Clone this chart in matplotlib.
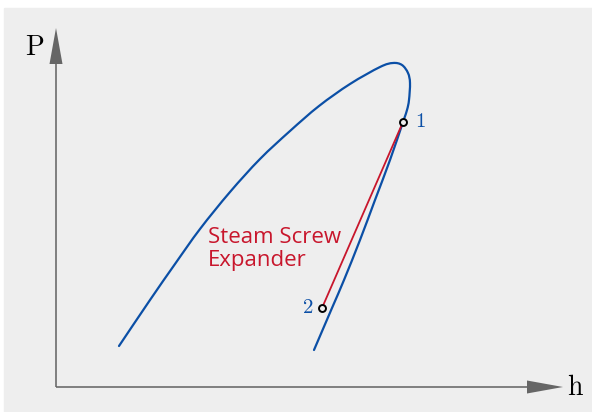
import numpy as np
import matplotlib

matplotlib.use("Agg")
import matplotlib.pyplot as plt
from matplotlib.patches import Rectangle, PathPatch
from matplotlib.path import Path

# ── Data (h, P in arbitrary units, origin at the axes corner) ────────────────

dome_h = [63, 94, 119, 144, 174, 204, 234, 263, 294, 324, 337, 346, 352,
          354, 353, 351, 347, 334, 319, 304, 288, 276, 258]
dome_P = [41, 87, 123, 158, 195, 228, 256, 281, 303, 320, 324, 322, 314,
          304, 287, 277, 265, 227, 187, 147, 107, 79, 37]

state_h = [347, 266]
state_P = [265, 79]
state_labels = ["1", "2"]

BG = "#eeeeee"
BLUE = "#0b4fa6"
RED = "#c8162c"
AXIS = "#666666"


def smooth_path(xs, ys):
    """Catmull-Rom through the points, handed to matplotlib as cubic Beziers."""
    pts = np.column_stack([xs, ys]).astype(float)
    ext = np.vstack([pts[0], pts, pts[-1]])
    verts = [pts[0]]
    codes = [Path.MOVETO]
    for i in range(1, len(ext) - 2):
        p0, p1, p2, p3 = ext[i - 1], ext[i], ext[i + 1], ext[i + 2]
        verts += [p1 + (p2 - p0) / 6, p2 - (p3 - p1) / 6, p2]
        codes += [Path.CURVE4] * 3
    return Path(verts, codes)


fig = plt.figure(figsize=(5.92, 4.12), dpi=100)
ax = fig.add_axes([0, 0, 1, 1])
ax.set_xlim(-56, 536)
ax.set_ylim(-25, 387)
ax.axis("off")

ax.add_patch(Rectangle((-52, -25), 588, 404, color=BG, zorder=0))

# axes arrows
ax.arrow(0, 0, 0, 359, width=1.6, head_width=13, head_length=36,
         length_includes_head=True, fc=AXIS, ec=AXIS, lw=0, zorder=1)
ax.arrow(0, 0, 507, 0, width=1.6, head_width=13, head_length=36,
         length_includes_head=True, fc=AXIS, ec=AXIS, lw=0, zorder=1)
ax.text(-22, 339, "P", fontfamily="cmr10", fontsize=20, ha="center",
        va="center", color="black")
ax.text(519, -1, "h", fontfamily="cmr10", fontsize=20, ha="center",
        va="center", color="black")

# saturation dome and expansion line
ax.add_patch(PathPatch(smooth_path(dome_h, dome_P), fill=False, ec=BLUE,
                       lw=1.6, capstyle="round", zorder=2))
ax.plot(state_h, state_P, color=RED, lw=1.3, zorder=3)
ax.plot(state_h, state_P, ls="none", marker="o", ms=5, mfc=BG, mec="black",
        mew=1.4, zorder=4)

ax.text(state_h[0] + 17, state_P[0], state_labels[0], fontfamily="cmr10",
        fontsize=15, color=BLUE, ha="center", va="center")
ax.text(state_h[1] - 14, state_P[1], state_labels[1], fontfamily="cmr10",
        fontsize=15, color=BLUE, ha="center", va="center")

ax.text(152, 138, "Steam Screw\nExpander", fontfamily="Open Sans",
        fontsize=16, color=RED, ha="left", va="center", linespacing=1.15)

fig.savefig("out.png", dpi=100)
